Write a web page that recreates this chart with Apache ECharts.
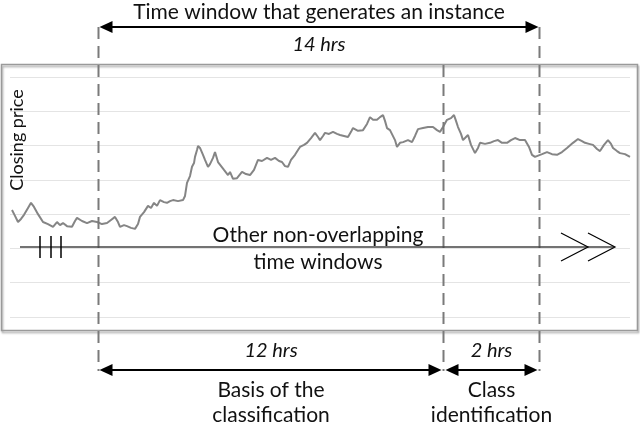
<!DOCTYPE html>
<html>
<head>
<meta charset="utf-8">
<title>Time window that generates an instance</title>
<script src="https://cdn.jsdelivr.net/npm/echarts@6/dist/echarts.min.js"></script>
<style>
    html, body { margin: 0; padding: 0; background: #fff; }
    #main { width: 640px; height: 422px; }
</style>
</head>
<body>
<div id="main"></div>
<script>
// closing price: [time step, price]
var closePoints = [
    [2, 31.2], [5, 29.5], [8, 27.7], [11, 28.6], [14, 29.8], [18, 31.8], [21, 33.3], [24, 32.1],
    [28, 30.0], [33, 27.7], [38, 27.1], [43, 26.3], [47, 27.7], [50, 26.8], [53, 27.4], [57, 26.5],
    [62, 26.3], [65, 28.0], [67, 28.9], [72, 28.0], [77, 27.4], [82, 28.0], [87, 27.7], [92, 27.1],
    [97, 27.4], [101, 28.3], [105, 29.2], [108, 27.7], [110, 26.3], [114, 26.8], [117, 26.5], [121, 26.0],
    [125, 25.7], [128, 27.1], [130, 29.2], [134, 30.6], [138, 32.4], [141, 31.8], [144, 33.3], [147, 32.4],
    [150, 34.1], [154, 33.5], [157, 33.3], [160, 33.8], [163, 34.1], [168, 33.8], [173, 34.1], [175, 35.3],
    [177, 39.1], [180, 41.1], [182, 43.8], [184, 44.9], [185, 46.7], [187, 48.7], [188, 49.9], [190, 49.3],
    [193, 47.3], [195, 45.8], [198, 43.8], [200, 44.6], [203, 46.4], [205, 48.1], [208, 45.2], [210, 45.2],
    [214, 42.9], [218, 41.4], [220, 42.3], [223, 40.3], [227, 40.5], [232, 42.3], [236, 41.7], [240, 41.4],
    [244, 42.9], [248, 45.8], [252, 45.5], [257, 46.4], [261, 45.8], [265, 46.4], [269, 45.5], [272, 45.2],
    [275, 44.0], [278, 43.8], [281, 45.8], [285, 47.3], [288, 48.7], [290, 49.6], [294, 50.2], [297, 50.8],
    [301, 52.2], [305, 53.7], [308, 52.5], [310, 51.6], [313, 52.8], [315, 53.7], [319, 53.4], [323, 54.0],
    [327, 53.4], [330, 53.1], [334, 52.8], [338, 52.5], [341, 54.0], [343, 55.1], [348, 54.3], [353, 54.5],
    [357, 56.3], [360, 58.3], [363, 57.5], [367, 57.5], [370, 58.3], [373, 58.9], [375, 57.2], [377, 55.1],
    [380, 54.5], [382, 54.0], [385, 51.6], [387, 49.6], [390, 50.8], [393, 51.0], [398, 51.6], [402, 51.0],
    [405, 52.8], [408, 54.8], [413, 55.1], [418, 55.4], [423, 55.4], [427, 54.5], [430, 54.0], [433, 55.4],
    [437, 57.5], [441, 58.0], [444, 58.9], [446, 57.2], [448, 55.4], [451, 53.4], [453, 51.6], [456, 52.5],
    [458, 53.1], [461, 50.2], [465, 47.8], [468, 49.3], [470, 50.8], [475, 50.5], [480, 50.8], [484, 51.3],
    [488, 51.6], [492, 50.8], [497, 50.8], [501, 51.6], [505, 52.2], [510, 51.6], [515, 51.6], [519, 49.6],
    [522, 47.3], [525, 46.7], [527, 46.7], [532, 47.5], [537, 48.1], [542, 47.5], [547, 47.3], [552, 48.1],
    [557, 49.3], [563, 50.8], [568, 51.9], [572, 51.3], [575, 50.8], [579, 50.5], [583, 50.2], [587, 49.0],
    [590, 48.4], [594, 50.2], [598, 51.6], [601, 50.5], [603, 49.3], [607, 48.4], [610, 47.8], [615, 47.5],
    [620, 46.7]
];
var priceTicks = [0, 10, 20, 30, 40, 50, 60, 70];

// window limits on the time axis: start, end of the 12 hrs part, end of the 14 hrs window
var windowBounds = [88, 433, 529];
var spanLabels = ['14 hrs', '12 hrs', '2 hrs'];
var topCaption = 'Time window that generates an instance';
var innerCaption = ['Other non-overlapping', 'time windows'];
var bottomCaptions = [['Basis of the', 'classification'], ['Class', 'identification']];
var axisTitle = 'Closing price';

var FONT = 'Lato, "Open Sans", sans-serif';

var myChart = echarts.init(document.getElementById('main'), null, { renderer: 'canvas' });

var option = {
    animation: false,
    backgroundColor: '#fff',
    grid: { left: 10, right: 10, top: 77, bottom: 105 },
    xAxis: {
        type: 'value',
        min: 0,
        max: 620,
        axisLine: { show: false },
        axisTick: { show: false },
        axisLabel: { show: false },
        splitLine: { show: false }
    },
    yAxis: {
        type: 'value',
        min: priceTicks[0],
        max: priceTicks[priceTicks.length - 1],
        interval: priceTicks[1] - priceTicks[0],
        axisLine: { show: false },
        axisTick: { show: false },
        axisLabel: { show: false },
        splitLine: { lineStyle: { color: '#e4e4e4', width: 1 } }
    },
    series: [{
        type: 'line',
        data: closePoints,
        showSymbol: false,
        lineStyle: { color: '#858585', width: 2 },
        z: 2
    }]
};
myChart.setOption(option);

// pixel x of the window limits, through the x axis
var wx = windowBounds.map(function (t) {
    return Math.round(myChart.convertToPixel({ xAxisIndex: 0 }, t)) + 0.5;
});

function headPoly(tipX, y, dir) {
    // dir = -1 points left, 1 points right
    return {
        type: 'polygon',
        shape: { points: [[tipX, y], [tipX - dir * 13, y - 6], [tipX - dir * 13, y + 6]] },
        style: { fill: '#000' },
        z: 10
    };
}

function doubleArrow(x1, x2, y) {
    return [
        { type: 'line', shape: { x1: x1 + 6, y1: y, x2: x2 - 6, y2: y }, style: { stroke: '#000', lineWidth: 2 }, z: 10 },
        headPoly(x1, y, -1),
        headPoly(x2, y, 1)
    ];
}

function label(text, x, y, size, italic) {
    return {
        type: 'text',
        x: x, y: y,
        style: {
            text: text,
            fill: '#111',
            font: (italic ? 'italic ' : '') + size + 'px ' + FONT,
            textAlign: 'center',
            textVerticalAlign: 'middle'
        },
        z: 12
    };
}

var dash = { stroke: '#7a7a7a', lineWidth: 2, lineDash: [12, 7] };
var g = [];

// frame round the price chart
g.push({
    type: 'rect',
    shape: { x: 1.5, y: 64.5, width: 636, height: 266 },
    style: {
        fill: 'none', stroke: '#9a9a9a', lineWidth: 1.5,
        shadowBlur: 2, shadowOffsetX: 1, shadowOffsetY: 2, shadowColor: 'rgba(0,0,0,0.35)'
    },
    z: 5
});

// dashed window limits
g.push({ type: 'line', shape: { x1: wx[0], y1: 27, x2: wx[0], y2: 371 }, style: dash, z: 8 });
g.push({ type: 'line', shape: { x1: wx[1], y1: 65, x2: wx[1], y2: 371 }, style: dash, z: 8 });
g.push({ type: 'line', shape: { x1: wx[2], y1: 27, x2: wx[2], y2: 371 }, style: dash, z: 8 });

// span arrows
g = g.concat(doubleArrow(wx[0] + 1, wx[2] - 1, 27));
g = g.concat(doubleArrow(wx[0] + 1, wx[1] - 2, 370));
g = g.concat(doubleArrow(wx[1] + 2, wx[2] - 2, 370));

// texts
g.push(label(topCaption, (wx[0] + wx[2]) / 2, 12, 21, false));
g.push(label(spanLabels[0], (wx[0] + wx[2]) / 2, 45, 20, true));
g.push(label(spanLabels[1], (wx[0] + wx[1]) / 2, 351, 20, true));
g.push(label(spanLabels[2], (wx[1] + wx[2]) / 2, 351, 20, true));
g.push(label(bottomCaptions[0][0], (wx[0] + wx[1]) / 2, 390, 21, false));
g.push(label(bottomCaptions[0][1], (wx[0] + wx[1]) / 2, 415, 21, false));
g.push(label(bottomCaptions[1][0], (wx[1] + wx[2]) / 2, 390, 21, false));
g.push(label(bottomCaptions[1][1], (wx[1] + wx[2]) / 2, 415, 21, false));
g.push(label(innerCaption[0], 318, 235, 21, false));
g.push(label(innerCaption[1], 318, 262, 21, false));

var yTitle = label(axisTitle, 17, 140, 18, false);
yTitle.rotation = Math.PI / 2;
g.push(yTitle);

// "other windows" arrow inside the frame
g.push({ type: 'line', shape: { x1: 20, y1: 247, x2: 614, y2: 247 }, style: { stroke: '#444', lineWidth: 1.5 }, z: 9 });
[40, 51, 61].forEach(function (x) {
    g.push({ type: 'line', shape: { x1: x, y1: 236, x2: x, y2: 258 }, style: { stroke: '#000', lineWidth: 1.5 }, z: 9 });
});
g.push({ type: 'polyline', shape: { points: [[561, 233], [588, 247], [561, 261]] }, style: { stroke: '#000', lineWidth: 1.2, fill: 'none' }, z: 9 });
g.push({ type: 'polyline', shape: { points: [[588, 233], [615, 247], [588, 261]] }, style: { stroke: '#000', lineWidth: 1.2, fill: 'none' }, z: 9 });

myChart.setOption({ graphic: { elements: g } });
</script>
</body>
</html>
